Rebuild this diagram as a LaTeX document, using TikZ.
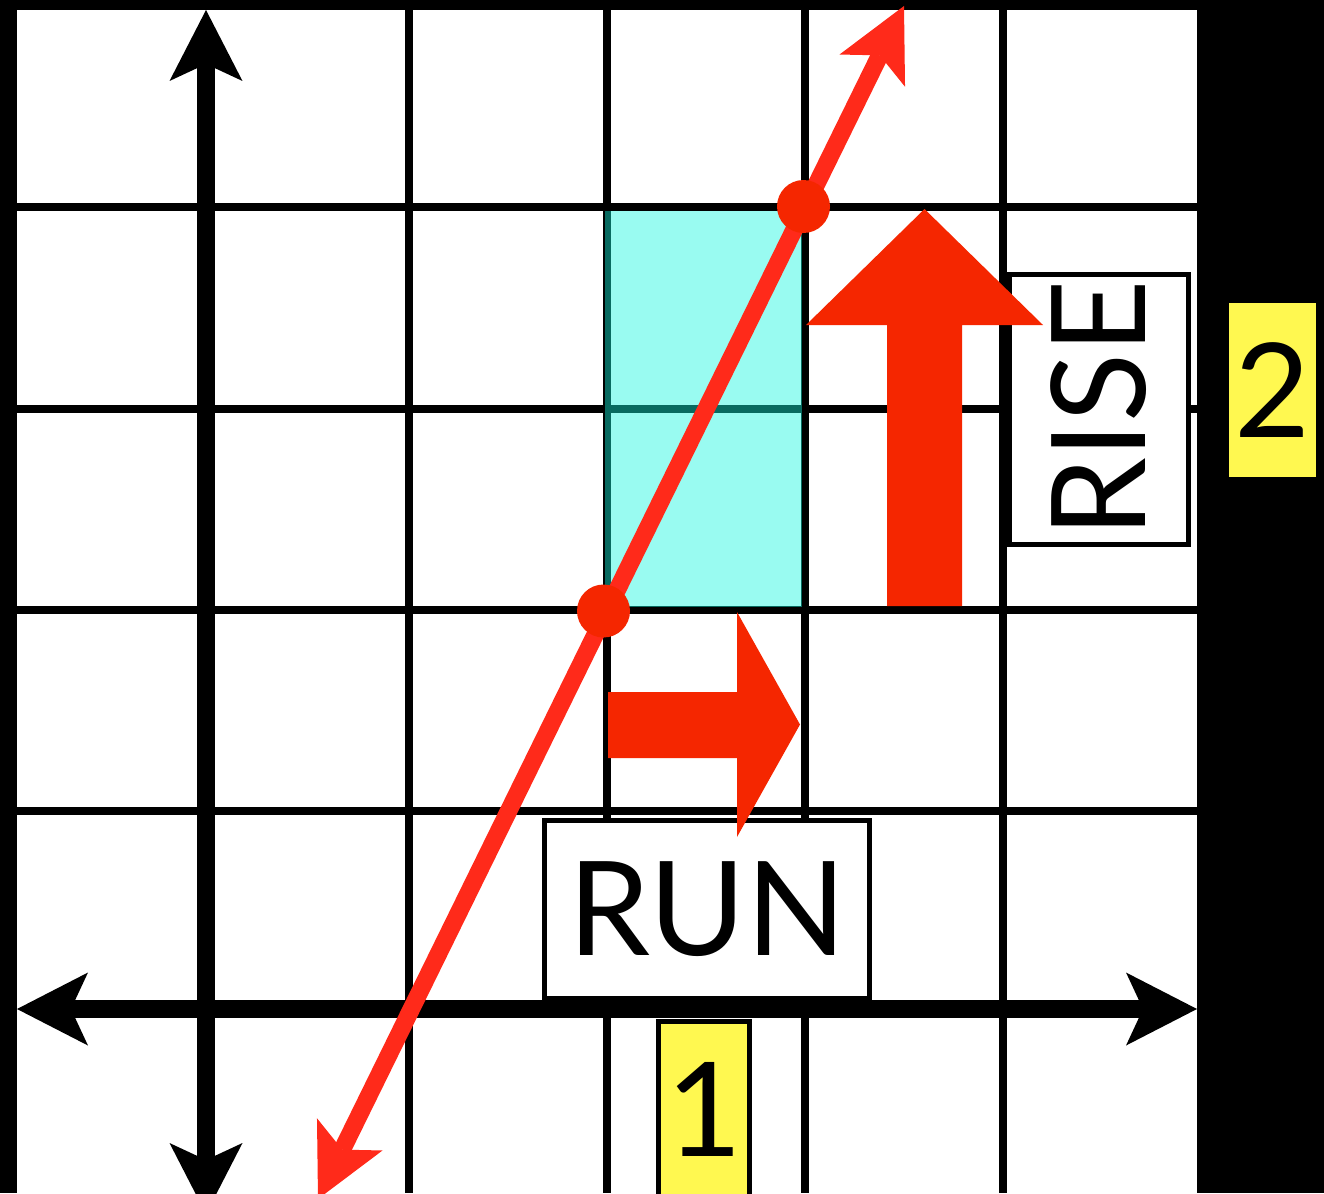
\documentclass[tikz,border=0pt]{standalone}
\usepackage{fontspec}
\setmainfont{Lato}
\usetikzlibrary{arrows.meta}
\definecolor{cyanfill}{RGB}{19,246,223}
\definecolor{redline}{RGB}{255,42,26}
\definecolor{redarrow}{RGB}{245,38,0}
\definecolor{labelyellow}{RGB}{255,248,80}
\begin{document}
\begin{tikzpicture}[x=1pt,y=-1pt,
  gridline/.style={line width=8pt, black},
  axisline/.style={line width=18pt, black, {Stealth[length=71pt,width=73pt,inset=17pt,line width=0pt]}-{Stealth[length=71pt,width=73pt,inset=17pt,line width=0pt]}},
  slopeline/.style={line width=17.5pt, redline, {Stealth[length=72pt,width=73pt,inset=17pt,line width=0pt]}-{Stealth[length=72pt,width=73pt,inset=17pt,line width=0pt]}},
  dot/.style={circle, fill=redarrow, minimum size=53pt, inner sep=0pt},
  bigarrow/.style={fill=redarrow},
  labelbox/.style={draw=black, line width=5pt, fill=white, inner sep=0pt, font=\fontsize{131pt}{131pt}\selectfont},
  numbox/.style={fill=labelyellow, inner sep=0pt, font=\fontsize{131pt}{131pt}\selectfont}
]
\useasboundingbox (0,0) rectangle (1324,1193);
\clip (0,0) rectangle (1324,1193);
% background
\fill[black] (0,0) rectangle (1324,1193);
\fill[white] (17,10) rectangle (1197,1193);
% grid
\foreach \x in {409,607,805,1003} \draw[gridline] (\x,0) -- (\x,1193);
\foreach \y in {207,409,610,811} \draw[gridline] (17,\y) -- (1197,\y);
% shaded rectangle
\fill[cyanfill, fill opacity=0.43] (605,211) rectangle (802,607);
% axes
\coordinate (ytop) at (206,10);
\coordinate (ybot) at (206,1214);
\coordinate (xleft) at (17,1009);
\coordinate (xright) at (1197,1009);
\draw[axisline] (ybot) -- (ytop);
\draw[axisline] (xleft) -- (xright);
% label boxes
\node[labelbox, minimum width=325pt, minimum height=177.5pt] (run) at (707,909.25) {RUN};
\node[labelbox, rotate=90, minimum width=270pt, minimum height=178.5pt] (rise) at (1098.75,409) {\scalebox{0.97}[1]{RISE}};
\node[numbox, draw=black, line width=5pt, minimum width=91pt, minimum height=176pt] (one) at (704,1109.5) {1};
\node[numbox, minimum width=87pt, minimum height=174pt] (two) at (1272.5,390) {2};
% big arrows
\fill[bigarrow] (887,606) -- (887,325) -- (806,325) -- (924.5,209) -- (1043,325) -- (962,325) -- (962,606) -- cycle;
\fill[bigarrow] (608,692) -- (737,692) -- (737,612) -- (800,724.5) -- (737,837) -- (737,758) -- (608,758) -- cycle;
% slope line
\coordinate (lbot) at (318,1199);
\coordinate (ltop) at (904,6);
\draw[slopeline] (lbot) -- (ltop);
\node[dot] (p1) at (603.5,611) {};
\node[dot] (p2) at (803.5,206.5) {};
\end{tikzpicture}
\end{document}
